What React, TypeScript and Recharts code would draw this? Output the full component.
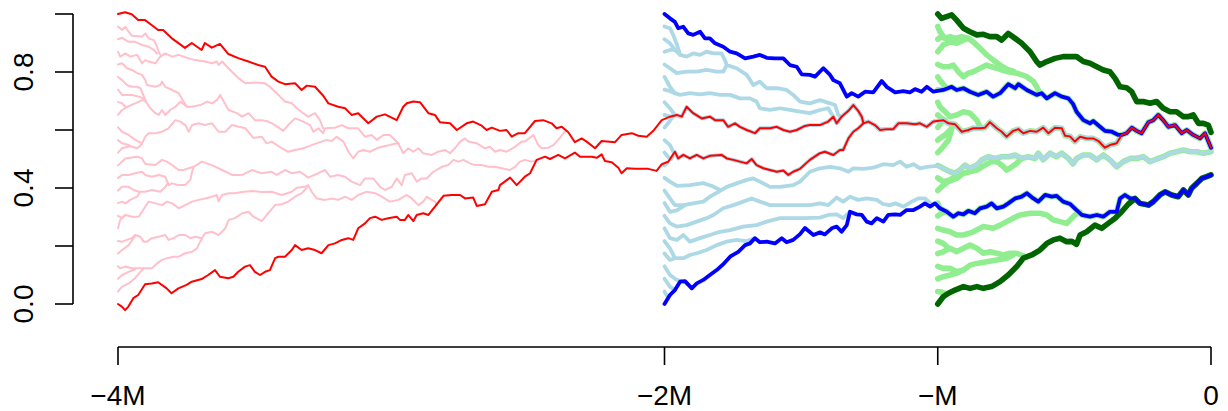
import { LineChart, Line, XAxis, YAxis, ReferenceLine } from 'recharts';

type Pt = [number, number];

// axis ticks (x in units of M)
const xTicks = [-4, -2, -1, 0];
const xTickLabels = ['\u22124M', '\u22122M', '\u2212M', '0'];
const yTicks = [0, 0.2, 0.4, 0.6, 0.8, 1];
const yTickLabels = ['0.0', '', '0.4', '', '0.8', ''];

// ---- lineages started at -4M (red = outermost, pink = inner) ----
const redTop: Pt[] = [[-4, 1.0], [-3.974, 1.006], [-3.950, 0.999], [-3.926, 0.979], [-3.901, 0.979], [-3.877, 0.962], [-3.853, 0.945], [-3.835, 0.945], [-3.804, 0.917], [-3.755, 0.883], [-3.730, 0.900], [-3.694, 0.876], [-3.682, 0.900], [-3.657, 0.884], [-3.627, 0.897], [-3.596, 0.862], [-3.560, 0.848], [-3.523, 0.836], [-3.487, 0.824], [-3.462, 0.818], [-3.438, 0.784], [-3.413, 0.767], [-3.389, 0.758], [-3.352, 0.761], [-3.328, 0.738], [-3.309, 0.753], [-3.279, 0.749], [-3.249, 0.718], [-3.230, 0.692], [-3.194, 0.680], [-3.169, 0.675], [-3.145, 0.652], [-3.121, 0.658], [-3.084, 0.623], [-3.053, 0.646], [-3.023, 0.654], [-2.980, 0.634], [-2.956, 0.680], [-2.943, 0.692], [-2.919, 0.698], [-2.895, 0.696], [-2.864, 0.658], [-2.840, 0.652], [-2.822, 0.627], [-2.785, 0.623], [-2.760, 0.600], [-2.724, 0.623], [-2.700, 0.629], [-2.669, 0.615], [-2.651, 0.600], [-2.632, 0.608], [-2.602, 0.597], [-2.578, 0.600], [-2.559, 0.577], [-2.535, 0.589], [-2.511, 0.589], [-2.474, 0.631], [-2.444, 0.634], [-2.413, 0.623], [-2.395, 0.606], [-2.376, 0.611], [-2.352, 0.592], [-2.328, 0.558], [-2.303, 0.571], [-2.285, 0.560], [-2.254, 0.537], [-2.230, 0.562], [-2.181, 0.558], [-2.157, 0.583], [-2.120, 0.589], [-2.096, 0.580], [-2.065, 0.577], [-2.041, 0.597], [-2.010, 0.634], [-1.980, 0.646], [-1.955, 0.652], [-1.937, 0.646], [-1.919, 0.680], [-1.895, 0.658], [-1.864, 0.640], [-1.834, 0.646], [-1.815, 0.634], [-1.785, 0.634], [-1.767, 0.611], [-1.742, 0.623], [-1.724, 0.611], [-1.699, 0.600], [-1.669, 0.589], [-1.651, 0.606], [-1.614, 0.606], [-1.589, 0.611], [-1.565, 0.600], [-1.541, 0.594], [-1.516, 0.600], [-1.486, 0.614], [-1.468, 0.617], [-1.431, 0.617], [-1.401, 0.629], [-1.382, 0.646], [-1.370, 0.623], [-1.352, 0.646], [-1.327, 0.666], [-1.309, 0.686], [-1.291, 0.666], [-1.278, 0.646], [-1.272, 0.623], [-1.254, 0.629], [-1.230, 0.617], [-1.211, 0.600], [-1.187, 0.603], [-1.163, 0.603], [-1.144, 0.623], [-1.114, 0.623], [-1.083, 0.620], [-1.065, 0.623], [-1.040, 0.611], [-1.016, 0.629], [-0.980, 0.634], [-0.961, 0.623], [-0.937, 0.620], [-0.912, 0.594], [-0.888, 0.600], [-0.870, 0.606], [-0.845, 0.606], [-0.827, 0.608], [-0.809, 0.627], [-0.784, 0.606], [-0.766, 0.594], [-0.748, 0.577], [-0.724, 0.597], [-0.705, 0.603], [-0.687, 0.589], [-0.662, 0.597], [-0.638, 0.594], [-0.614, 0.608], [-0.595, 0.589], [-0.571, 0.608], [-0.546, 0.606], [-0.534, 0.580], [-0.516, 0.578], [-0.498, 0.560], [-0.479, 0.577], [-0.455, 0.571], [-0.431, 0.571], [-0.412, 0.562], [-0.388, 0.539], [-0.370, 0.548], [-0.345, 0.554], [-0.327, 0.583], [-0.309, 0.589], [-0.290, 0.608], [-0.272, 0.597], [-0.254, 0.589], [-0.229, 0.627], [-0.211, 0.634], [-0.193, 0.652], [-0.175, 0.634], [-0.156, 0.611], [-0.132, 0.617], [-0.107, 0.589], [-0.089, 0.600], [-0.065, 0.583], [-0.040, 0.571], [-0.022, 0.589], [0, 0.539]];

const redBottom: Pt[] = [[-4, 0.0], [-3.986, -0.009], [-3.974, -0.021], [-3.962, -0.009], [-3.944, 0.020], [-3.926, 0.031], [-3.901, 0.068], [-3.877, 0.071], [-3.853, 0.075], [-3.822, 0.054], [-3.804, 0.037], [-3.779, 0.054], [-3.749, 0.066], [-3.730, 0.077], [-3.694, 0.086], [-3.670, 0.100], [-3.645, 0.117], [-3.627, 0.094], [-3.596, 0.089], [-3.578, 0.094], [-3.560, 0.111], [-3.535, 0.129], [-3.517, 0.134], [-3.499, 0.111], [-3.480, 0.100], [-3.462, 0.111], [-3.444, 0.117], [-3.425, 0.158], [-3.413, 0.163], [-3.389, 0.163], [-3.364, 0.186], [-3.352, 0.203], [-3.328, 0.186], [-3.304, 0.192], [-3.279, 0.186], [-3.255, 0.175], [-3.230, 0.203], [-3.206, 0.209], [-3.181, 0.221], [-3.157, 0.227], [-3.139, 0.221], [-3.121, 0.261], [-3.096, 0.278], [-3.078, 0.296], [-3.059, 0.301], [-3.035, 0.290], [-3.011, 0.296], [-2.980, 0.301], [-2.968, 0.290], [-2.950, 0.290], [-2.938, 0.307], [-2.919, 0.286], [-2.907, 0.307], [-2.883, 0.313], [-2.864, 0.307], [-2.840, 0.336], [-2.809, 0.373], [-2.779, 0.376], [-2.748, 0.376], [-2.730, 0.364], [-2.700, 0.367], [-2.687, 0.338], [-2.657, 0.344], [-2.632, 0.387], [-2.608, 0.393], [-2.602, 0.410], [-2.565, 0.436], [-2.541, 0.410], [-2.511, 0.439], [-2.492, 0.451], [-2.468, 0.497], [-2.437, 0.508], [-2.419, 0.500], [-2.389, 0.514], [-2.364, 0.502], [-2.328, 0.522], [-2.309, 0.508], [-2.266, 0.508], [-2.248, 0.504], [-2.230, 0.516], [-2.218, 0.493], [-2.193, 0.489], [-2.169, 0.470], [-2.157, 0.451], [-2.138, 0.468], [-2.108, 0.466], [-2.059, 0.466], [-2.029, 0.459], [-2.010, 0.482], [-1.986, 0.491], [-1.962, 0.525], [-1.950, 0.502], [-1.931, 0.514], [-1.907, 0.502], [-1.882, 0.514], [-1.858, 0.502], [-1.834, 0.511], [-1.791, 0.514], [-1.772, 0.502], [-1.748, 0.497], [-1.724, 0.491], [-1.699, 0.485], [-1.681, 0.500], [-1.663, 0.479], [-1.638, 0.468], [-1.614, 0.462], [-1.589, 0.456], [-1.565, 0.460], [-1.547, 0.445], [-1.529, 0.456], [-1.504, 0.466], [-1.468, 0.497], [-1.431, 0.520], [-1.413, 0.525], [-1.382, 0.514], [-1.358, 0.531], [-1.346, 0.531], [-1.327, 0.571], [-1.309, 0.594], [-1.291, 0.606], [-1.272, 0.623]];

const pink1: Pt[] = [[-4, 0.957], [-3.985, 0.945], [-3.973, 0.956], [-3.961, 0.939], [-3.949, 0.925], [-3.912, 0.922], [-3.900, 0.933], [-3.888, 0.916], [-3.869, 0.910], [-3.857, 0.887], [-3.851, 0.870], [-3.845, 0.859]];
const pink2: Pt[] = [[-4, 0.913], [-3.985, 0.918], [-3.961, 0.904], [-3.937, 0.904], [-3.912, 0.893], [-3.888, 0.887], [-3.869, 0.876], [-3.857, 0.864]];
const pink3: Pt[] = [[-4, 0.870], [-3.992, 0.853], [-3.973, 0.864], [-3.955, 0.853], [-3.930, 0.859], [-3.912, 0.830], [-3.900, 0.841], [-3.888, 0.836], [-3.863, 0.830], [-3.846, 0.852], [-3.827, 0.864], [-3.802, 0.853], [-3.778, 0.859], [-3.741, 0.847], [-3.717, 0.841], [-3.681, 0.836], [-3.656, 0.830], [-3.638, 0.836], [-3.632, 0.824], [-3.619, 0.836], [-3.601, 0.818], [-3.583, 0.801], [-3.558, 0.778], [-3.534, 0.761], [-3.499, 0.764], [-3.462, 0.761], [-3.444, 0.749], [-3.413, 0.721], [-3.389, 0.698], [-3.364, 0.692], [-3.346, 0.675], [-3.322, 0.658], [-3.304, 0.646], [-3.279, 0.658], [-3.261, 0.634], [-3.249, 0.606]];
const pink4: Pt[] = [[-4, 0.826], [-3.985, 0.830], [-3.967, 0.813], [-3.949, 0.807], [-3.930, 0.796], [-3.912, 0.790], [-3.900, 0.772], [-3.894, 0.755], [-3.863, 0.749], [-3.845, 0.755], [-3.839, 0.767], [-3.827, 0.749], [-3.802, 0.738], [-3.778, 0.727], [-3.760, 0.698], [-3.748, 0.680], [-3.729, 0.680], [-3.699, 0.686], [-3.674, 0.698], [-3.656, 0.692], [-3.638, 0.703], [-3.626, 0.721], [-3.613, 0.698], [-3.595, 0.669], [-3.565, 0.658], [-3.546, 0.646], [-3.522, 0.658], [-3.499, 0.634], [-3.474, 0.634], [-3.450, 0.629], [-3.425, 0.617], [-3.395, 0.597], [-3.377, 0.617], [-3.352, 0.640], [-3.322, 0.629], [-3.297, 0.617], [-3.285, 0.594], [-3.267, 0.606], [-3.249, 0.589], [-3.242, 0.606], [-3.206, 0.608], [-3.181, 0.617], [-3.157, 0.606], [-3.121, 0.606], [-3.096, 0.577], [-3.072, 0.583], [-3.053, 0.566], [-3.029, 0.583], [-3.005, 0.583], [-2.975, 0.555], [-2.956, 0.520], [-2.938, 0.537], [-2.919, 0.525], [-2.901, 0.537], [-2.883, 0.520], [-2.852, 0.514], [-2.828, 0.525], [-2.803, 0.531], [-2.785, 0.520], [-2.767, 0.537], [-2.748, 0.560], [-2.730, 0.571], [-2.718, 0.560], [-2.687, 0.554], [-2.657, 0.537], [-2.639, 0.542], [-2.620, 0.525], [-2.602, 0.531], [-2.578, 0.525], [-2.547, 0.542], [-2.523, 0.560], [-2.511, 0.560], [-2.480, 0.583], [-2.462, 0.548], [-2.449, 0.537], [-2.425, 0.539], [-2.407, 0.548], [-2.389, 0.566], [-2.364, 0.595]];
const pink5: Pt[] = [[-4, 0.783], [-3.985, 0.772], [-3.967, 0.755], [-3.949, 0.749], [-3.930, 0.749], [-3.918, 0.744], [-3.897, 0.697]];
const pink6: Pt[] = [[-4, 0.739], [-3.985, 0.721], [-3.967, 0.721], [-3.949, 0.721], [-3.924, 0.715], [-3.906, 0.709], [-3.882, 0.675], [-3.863, 0.658], [-3.851, 0.652], [-3.839, 0.669], [-3.827, 0.652], [-3.809, 0.669], [-3.790, 0.680], [-3.772, 0.698], [-3.748, 0.680]];
const pink7: Pt[] = [[-4, 0.696], [-3.985, 0.692], [-3.973, 0.680]];
const pink8: Pt[] = [[-4, 0.652], [-3.985, 0.669], [-3.967, 0.680], [-3.937, 0.692], [-3.912, 0.703], [-3.901, 0.700]];
const pink9: Pt[] = [[-4, 0.609], [-3.985, 0.594], [-3.961, 0.583], [-3.937, 0.566], [-3.912, 0.554], [-3.900, 0.577], [-3.888, 0.589], [-3.863, 0.589], [-3.839, 0.594], [-3.815, 0.606], [-3.790, 0.634], [-3.772, 0.629], [-3.754, 0.617], [-3.741, 0.594], [-3.729, 0.617], [-3.705, 0.623], [-3.681, 0.617], [-3.656, 0.623], [-3.632, 0.594], [-3.607, 0.594], [-3.583, 0.617], [-3.558, 0.611], [-3.534, 0.606], [-3.505, 0.573], [-3.474, 0.577], [-3.456, 0.554], [-3.438, 0.560], [-3.401, 0.537], [-3.377, 0.525], [-3.352, 0.531], [-3.322, 0.537], [-3.291, 0.548], [-3.261, 0.558], [-3.236, 0.566], [-3.218, 0.562], [-3.200, 0.577], [-3.175, 0.560], [-3.157, 0.525], [-3.139, 0.502], [-3.121, 0.525], [-3.102, 0.531], [-3.078, 0.525], [-3.053, 0.537], [-3.035, 0.542], [-3.005, 0.548], [-2.975, 0.555]];
const pink10: Pt[] = [[-4, 0.565], [-3.985, 0.554], [-3.961, 0.548], [-3.949, 0.542], [-3.930, 0.537], [-3.912, 0.552]];
const pink11: Pt[] = [[-4, 0.522], [-3.985, 0.537], [-3.955, 0.545]];
const pink12: Pt[] = [[-4, 0.478], [-3.973, 0.502], [-3.930, 0.508], [-3.912, 0.502], [-3.900, 0.483], [-3.863, 0.479], [-3.839, 0.497], [-3.821, 0.491], [-3.802, 0.479], [-3.778, 0.462], [-3.760, 0.462], [-3.741, 0.468], [-3.723, 0.473], [-3.693, 0.491], [-3.656, 0.479], [-3.619, 0.462], [-3.583, 0.445], [-3.546, 0.445], [-3.510, 0.462], [-3.474, 0.451], [-3.438, 0.456], [-3.419, 0.445], [-3.389, 0.462], [-3.364, 0.451], [-3.334, 0.456], [-3.304, 0.436], [-3.267, 0.451], [-3.242, 0.462], [-3.224, 0.439], [-3.194, 0.445], [-3.169, 0.439], [-3.145, 0.422], [-3.114, 0.410], [-3.096, 0.433], [-3.066, 0.433], [-3.041, 0.404], [-3.023, 0.393], [-2.998, 0.404], [-2.980, 0.433], [-2.962, 0.410], [-2.950, 0.445], [-2.925, 0.451], [-2.907, 0.422], [-2.889, 0.433], [-2.870, 0.433], [-2.846, 0.456], [-2.815, 0.473], [-2.791, 0.479], [-2.773, 0.497], [-2.755, 0.491], [-2.736, 0.497], [-2.712, 0.485], [-2.694, 0.479], [-2.669, 0.479], [-2.645, 0.473], [-2.620, 0.473], [-2.596, 0.468], [-2.565, 0.462], [-2.547, 0.473], [-2.529, 0.491], [-2.511, 0.497], [-2.486, 0.491], [-2.462, 0.497]];
const pink13: Pt[] = [[-4, 0.435], [-3.985, 0.445], [-3.961, 0.445], [-3.937, 0.451], [-3.912, 0.456], [-3.900, 0.445], [-3.876, 0.439], [-3.851, 0.445], [-3.827, 0.439], [-3.815, 0.410], [-3.802, 0.416], [-3.778, 0.410], [-3.754, 0.410], [-3.735, 0.428], [-3.729, 0.456], [-3.723, 0.473]];
const pink14: Pt[] = [[-4, 0.391], [-3.985, 0.404], [-3.961, 0.404], [-3.943, 0.393], [-3.924, 0.387], [-3.900, 0.387], [-3.876, 0.393], [-3.845, 0.387], [-3.827, 0.404], [-3.817, 0.417]];
const pink15: Pt[] = [[-4, 0.348], [-3.985, 0.353], [-3.973, 0.347], [-3.955, 0.359], [-3.930, 0.370], [-3.919, 0.386]];
const pink16: Pt[] = [[-4, 0.304], [-3.987, 0.297], [-3.973, 0.307]];
const pink17: Pt[] = [[-4, 0.261], [-3.992, 0.290], [-3.973, 0.307], [-3.949, 0.301], [-3.924, 0.301], [-3.912, 0.318], [-3.900, 0.336], [-3.888, 0.353], [-3.863, 0.347], [-3.839, 0.341], [-3.821, 0.353], [-3.802, 0.347], [-3.778, 0.330], [-3.754, 0.341], [-3.729, 0.353], [-3.705, 0.359], [-3.681, 0.364], [-3.656, 0.370], [-3.638, 0.376], [-3.632, 0.353], [-3.619, 0.376], [-3.595, 0.382], [-3.572, 0.382], [-3.546, 0.386], [-3.510, 0.390], [-3.474, 0.386], [-3.438, 0.387], [-3.401, 0.376], [-3.364, 0.387], [-3.346, 0.401], [-3.316, 0.404], [-3.304, 0.410], [-3.291, 0.387], [-3.273, 0.364], [-3.242, 0.359], [-3.218, 0.364], [-3.194, 0.359], [-3.169, 0.370], [-3.145, 0.359], [-3.121, 0.376], [-3.090, 0.387], [-3.059, 0.382], [-3.035, 0.370], [-3.005, 0.353], [-2.974, 0.359], [-2.943, 0.376], [-2.925, 0.364], [-2.901, 0.341], [-2.883, 0.353], [-2.870, 0.370], [-2.852, 0.359], [-2.840, 0.353], [-2.833, 0.341]];
const pink18: Pt[] = [[-4, 0.217], [-3.985, 0.215], [-3.967, 0.221], [-3.949, 0.227], [-3.937, 0.238], [-3.918, 0.232], [-3.906, 0.215], [-3.894, 0.215], [-3.876, 0.227], [-3.851, 0.232], [-3.827, 0.238], [-3.815, 0.221], [-3.796, 0.227], [-3.778, 0.238], [-3.754, 0.238], [-3.735, 0.227], [-3.717, 0.232], [-3.693, 0.227], [-3.681, 0.244], [-3.656, 0.249], [-3.632, 0.238], [-3.607, 0.261], [-3.595, 0.290], [-3.572, 0.296], [-3.546, 0.313], [-3.522, 0.318], [-3.505, 0.301], [-3.474, 0.286], [-3.450, 0.313], [-3.425, 0.341], [-3.401, 0.344], [-3.377, 0.353], [-3.352, 0.370], [-3.328, 0.382], [-3.309, 0.401]];
const pink19: Pt[] = [[-4, 0.174], [-3.985, 0.186], [-3.961, 0.203], [-3.937, 0.235]];
const pink20: Pt[] = [[-4, 0.130], [-3.992, 0.123], [-3.973, 0.129], [-3.949, 0.123], [-3.924, 0.123], [-3.906, 0.123], [-3.876, 0.123], [-3.857, 0.140], [-3.839, 0.152], [-3.821, 0.158], [-3.796, 0.163], [-3.778, 0.163], [-3.754, 0.175], [-3.729, 0.180], [-3.711, 0.192], [-3.699, 0.215], [-3.693, 0.223]];
const pink21: Pt[] = [[-4, 0.087], [-3.985, 0.100], [-3.961, 0.111], [-3.937, 0.120]];
const pink22: Pt[] = [[-4, 0.043], [-3.985, 0.060], [-3.961, 0.071], [-3.937, 0.090], [-3.919, 0.110], [-3.906, 0.123]];

// ---- lineages started at -2M (blue = outermost, light blue = inner) ----
const blueTop: Pt[] = [[-2, 1.0], [-1.980, 0.985], [-1.962, 0.973], [-1.950, 0.951], [-1.931, 0.956], [-1.913, 0.933], [-1.895, 0.928], [-1.870, 0.939], [-1.852, 0.916], [-1.834, 0.916], [-1.815, 0.899], [-1.785, 0.887], [-1.760, 0.870], [-1.736, 0.864], [-1.705, 0.847], [-1.675, 0.853], [-1.651, 0.859], [-1.626, 0.849], [-1.596, 0.847], [-1.565, 0.847], [-1.541, 0.824], [-1.516, 0.818], [-1.498, 0.792], [-1.468, 0.790], [-1.449, 0.784], [-1.419, 0.813], [-1.394, 0.790], [-1.382, 0.772], [-1.358, 0.761], [-1.333, 0.715], [-1.315, 0.727], [-1.291, 0.715], [-1.266, 0.732], [-1.236, 0.730], [-1.205, 0.769], [-1.187, 0.749], [-1.156, 0.730], [-1.126, 0.734], [-1.102, 0.730], [-1.083, 0.741], [-1.059, 0.732], [-1.040, 0.749], [-1.016, 0.732], [-0.980, 0.738], [-0.949, 0.749], [-0.931, 0.738], [-0.906, 0.744], [-0.882, 0.732], [-0.852, 0.721], [-0.821, 0.732], [-0.797, 0.715], [-0.772, 0.727], [-0.742, 0.758], [-0.717, 0.744], [-0.705, 0.758], [-0.674, 0.738], [-0.638, 0.721], [-0.620, 0.727], [-0.601, 0.709], [-0.571, 0.727], [-0.546, 0.715], [-0.522, 0.709], [-0.505, 0.690], [-0.492, 0.663], [-0.467, 0.634], [-0.443, 0.623], [-0.431, 0.631], [-0.406, 0.611], [-0.388, 0.597], [-0.363, 0.594], [-0.339, 0.583], [-0.327, 0.583]];

const blueBottom: Pt[] = [[-2, 0.0], [-1.980, 0.031], [-1.962, 0.048], [-1.943, 0.077], [-1.925, 0.079], [-1.900, 0.054], [-1.882, 0.071], [-1.858, 0.083], [-1.834, 0.100], [-1.809, 0.117], [-1.785, 0.137], [-1.760, 0.163], [-1.730, 0.180], [-1.705, 0.203], [-1.687, 0.209], [-1.669, 0.227], [-1.651, 0.213], [-1.626, 0.215], [-1.596, 0.209], [-1.571, 0.227], [-1.553, 0.213], [-1.529, 0.221], [-1.504, 0.241], [-1.486, 0.262], [-1.455, 0.238], [-1.431, 0.247], [-1.413, 0.240], [-1.388, 0.261], [-1.370, 0.267], [-1.352, 0.249], [-1.333, 0.272], [-1.321, 0.318], [-1.297, 0.309], [-1.278, 0.307], [-1.260, 0.284], [-1.242, 0.278], [-1.223, 0.296], [-1.199, 0.284], [-1.181, 0.307], [-1.156, 0.309], [-1.138, 0.307], [-1.114, 0.324], [-1.089, 0.324], [-1.065, 0.336], [-1.047, 0.347], [-1.028, 0.336], [-1.010, 0.347], [-0.992, 0.330], [-0.967, 0.318], [-0.943, 0.301], [-0.925, 0.313], [-0.906, 0.309], [-0.888, 0.321], [-0.864, 0.313], [-0.845, 0.330], [-0.821, 0.336], [-0.803, 0.347], [-0.784, 0.330], [-0.760, 0.336], [-0.742, 0.347], [-0.717, 0.364], [-0.693, 0.370], [-0.674, 0.382], [-0.650, 0.364], [-0.632, 0.353], [-0.607, 0.376], [-0.583, 0.370], [-0.565, 0.373], [-0.541, 0.353], [-0.516, 0.345], [-0.492, 0.324], [-0.473, 0.307], [-0.443, 0.301], [-0.418, 0.307], [-0.394, 0.301], [-0.370, 0.318], [-0.345, 0.318], [-0.333, 0.364], [-0.315, 0.376], [-0.296, 0.364], [-0.278, 0.364], [-0.260, 0.347], [-0.229, 0.341], [-0.211, 0.353], [-0.187, 0.376], [-0.168, 0.387], [-0.144, 0.376], [-0.120, 0.370], [-0.101, 0.393], [-0.083, 0.376], [-0.071, 0.399], [-0.052, 0.416], [-0.034, 0.433], [-0.016, 0.439], [0, 0.445]];

const lb1: Pt[] = [[-2, 0.957], [-1.980, 0.951], [-1.968, 0.928], [-1.954, 0.893], [-1.943, 0.859]];
const lb2: Pt[] = [[-2, 0.913], [-1.980, 0.899], [-1.962, 0.876], [-1.943, 0.859], [-1.919, 0.853], [-1.895, 0.864], [-1.870, 0.859], [-1.846, 0.870], [-1.821, 0.864], [-1.791, 0.864], [-1.779, 0.841], [-1.772, 0.824], [-1.736, 0.813], [-1.699, 0.790], [-1.675, 0.755], [-1.651, 0.767], [-1.626, 0.744], [-1.589, 0.744], [-1.553, 0.738], [-1.529, 0.721], [-1.504, 0.698], [-1.468, 0.692], [-1.431, 0.703], [-1.394, 0.692], [-1.376, 0.686], [-1.364, 0.652]];
const lb3: Pt[] = [[-2, 0.870], [-1.980, 0.876], [-1.962, 0.876]];
const lb4: Pt[] = [[-2, 0.826], [-1.980, 0.813], [-1.955, 0.796], [-1.919, 0.801], [-1.882, 0.801], [-1.846, 0.807], [-1.809, 0.801], [-1.785, 0.801], [-1.772, 0.824]];
const lb5: Pt[] = [[-2, 0.783], [-1.980, 0.749], [-1.962, 0.727], [-1.943, 0.721], [-1.907, 0.727], [-1.870, 0.723], [-1.834, 0.727], [-1.797, 0.721], [-1.760, 0.721], [-1.724, 0.709], [-1.687, 0.709], [-1.663, 0.698], [-1.651, 0.675], [-1.614, 0.669], [-1.577, 0.675], [-1.541, 0.669], [-1.504, 0.663], [-1.468, 0.658], [-1.431, 0.669], [-1.401, 0.675], [-1.382, 0.646]];
const lb6: Pt[] = [[-2, 0.739], [-1.980, 0.734], [-1.962, 0.727]];
const lb7: Pt[] = [[-2, 0.696], [-1.980, 0.675], [-1.962, 0.652], [-1.943, 0.646]];
const lb8: Pt[] = [[-2, 0.652]];
const lb9: Pt[] = [[-2, 0.609], [-1.985, 0.625], [-1.970, 0.645]];
const lb10: Pt[] = [[-2, 0.565], [-1.980, 0.548], [-1.968, 0.525]];
const lb11: Pt[] = [[-2, 0.522], [-1.985, 0.505], [-1.975, 0.500]];
const lb12: Pt[] = [[-2, 0.478], [-1.990, 0.487]];
const lb13: Pt[] = [[-2, 0.435], [-1.980, 0.422], [-1.954, 0.407], [-1.907, 0.410], [-1.859, 0.417], [-1.826, 0.407], [-1.797, 0.393]];
const lb14: Pt[] = [[-2, 0.391], [-1.980, 0.364], [-1.962, 0.341], [-1.931, 0.341], [-1.895, 0.347], [-1.858, 0.353], [-1.834, 0.370], [-1.803, 0.387], [-1.772, 0.404], [-1.736, 0.416], [-1.699, 0.428], [-1.675, 0.433], [-1.651, 0.422], [-1.614, 0.404], [-1.577, 0.404], [-1.529, 0.410], [-1.504, 0.422], [-1.468, 0.456], [-1.431, 0.468], [-1.394, 0.473], [-1.358, 0.468], [-1.327, 0.456], [-1.309, 0.468], [-1.272, 0.466], [-1.236, 0.470], [-1.199, 0.482], [-1.163, 0.479], [-1.138, 0.491], [-1.114, 0.473], [-1.089, 0.482], [-1.065, 0.468], [-1.040, 0.473], [-1.004, 0.476], [-0.980, 0.468], [-0.955, 0.456], [-0.937, 0.451], [-0.919, 0.462], [-0.900, 0.479], [-0.882, 0.468], [-0.857, 0.479], [-0.839, 0.497], [-0.815, 0.508], [-0.790, 0.502], [-0.766, 0.508], [-0.742, 0.508], [-0.717, 0.514], [-0.693, 0.502], [-0.669, 0.508], [-0.644, 0.502], [-0.632, 0.520], [-0.614, 0.497], [-0.589, 0.520], [-0.565, 0.508], [-0.546, 0.520], [-0.522, 0.502], [-0.505, 0.483], [-0.492, 0.502], [-0.467, 0.514], [-0.443, 0.514], [-0.418, 0.497], [-0.394, 0.514], [-0.370, 0.497], [-0.345, 0.473], [-0.321, 0.491], [-0.296, 0.502], [-0.272, 0.502], [-0.248, 0.508], [-0.223, 0.491], [-0.199, 0.500], [-0.175, 0.508], [-0.150, 0.520], [-0.126, 0.525], [-0.101, 0.531], [-0.077, 0.525], [-0.052, 0.525], [-0.028, 0.520], [0, 0.525]];
const lb15: Pt[] = [[-2, 0.348], [-1.980, 0.318], [-1.955, 0.323], [-1.925, 0.341]];
const lb16: Pt[] = [[-2, 0.304], [-1.980, 0.278], [-1.955, 0.267], [-1.919, 0.272], [-1.882, 0.284], [-1.846, 0.296], [-1.821, 0.307], [-1.785, 0.330], [-1.748, 0.341], [-1.712, 0.353], [-1.681, 0.364], [-1.651, 0.353], [-1.614, 0.341], [-1.577, 0.341], [-1.529, 0.341], [-1.486, 0.341], [-1.468, 0.341], [-1.431, 0.347], [-1.401, 0.341], [-1.370, 0.367], [-1.346, 0.353], [-1.321, 0.370], [-1.291, 0.359], [-1.260, 0.364], [-1.223, 0.359], [-1.199, 0.344], [-1.175, 0.341], [-1.156, 0.347], [-1.126, 0.336], [-1.095, 0.353], [-1.071, 0.364], [-1.047, 0.364], [-1.022, 0.344], [-1.010, 0.347]];
const lb17: Pt[] = [[-2, 0.261], [-1.980, 0.227], [-1.955, 0.221], [-1.931, 0.238], [-1.907, 0.215], [-1.870, 0.227], [-1.834, 0.238], [-1.797, 0.249], [-1.760, 0.255], [-1.712, 0.267], [-1.663, 0.272], [-1.626, 0.284], [-1.577, 0.296], [-1.529, 0.296], [-1.486, 0.296], [-1.431, 0.298], [-1.401, 0.307], [-1.370, 0.309], [-1.346, 0.296], [-1.327, 0.313], [-1.321, 0.318]];
const lb18: Pt[] = [[-2, 0.217], [-1.980, 0.192], [-1.962, 0.158], [-1.931, 0.158], [-1.907, 0.169], [-1.882, 0.175], [-1.846, 0.186], [-1.809, 0.203], [-1.772, 0.215], [-1.736, 0.221], [-1.699, 0.217], [-1.669, 0.227]];
const lb19: Pt[] = [[-2, 0.174], [-1.980, 0.152], [-1.962, 0.158]];
const lb20: Pt[] = [[-2, 0.130], [-1.980, 0.100], [-1.955, 0.083], [-1.931, 0.077], [-1.914, 0.068]];
const lb21: Pt[] = [[-2, 0.087], [-1.980, 0.060], [-1.962, 0.048]];
const lb22: Pt[] = [[-2, 0.043], [-1.991, 0.028]];

// ---- lineages started at -M (dark green = outermost, light green = inner) ----
const greenTop: Pt[] = [[-1, 1.0], [-0.986, 0.985], [-0.949, 0.997], [-0.931, 0.979], [-0.906, 0.951], [-0.882, 0.939], [-0.857, 0.928], [-0.833, 0.930], [-0.809, 0.922], [-0.784, 0.922], [-0.766, 0.910], [-0.742, 0.933], [-0.717, 0.916], [-0.693, 0.899], [-0.662, 0.870], [-0.638, 0.836], [-0.626, 0.824], [-0.601, 0.836], [-0.571, 0.847], [-0.541, 0.853], [-0.516, 0.853], [-0.492, 0.853], [-0.467, 0.836], [-0.443, 0.830], [-0.418, 0.818], [-0.394, 0.807], [-0.370, 0.801], [-0.351, 0.778], [-0.333, 0.749], [-0.309, 0.746], [-0.290, 0.732], [-0.272, 0.698], [-0.248, 0.698], [-0.223, 0.692], [-0.199, 0.698], [-0.175, 0.675], [-0.150, 0.663], [-0.126, 0.663], [-0.101, 0.646], [-0.083, 0.646], [-0.065, 0.652], [-0.046, 0.623], [-0.028, 0.623], [-0.010, 0.617], [0, 0.592]];
const greenBottom: Pt[] = [[-1, 0.0], [-0.980, 0.025], [-0.961, 0.037], [-0.937, 0.048], [-0.906, 0.060], [-0.882, 0.054], [-0.857, 0.060], [-0.833, 0.054], [-0.803, 0.060], [-0.772, 0.077], [-0.742, 0.100], [-0.711, 0.129], [-0.687, 0.158], [-0.656, 0.169], [-0.626, 0.186], [-0.601, 0.209], [-0.577, 0.221], [-0.553, 0.227], [-0.528, 0.215], [-0.509, 0.216], [-0.492, 0.206], [-0.479, 0.238], [-0.455, 0.249], [-0.425, 0.272], [-0.400, 0.261], [-0.376, 0.278], [-0.351, 0.296], [-0.327, 0.318], [-0.303, 0.344], [-0.284, 0.359]];

const lg1: Pt[] = [[-1, 0.957], [-0.992, 0.939], [-0.973, 0.916], [-0.955, 0.922], [-0.937, 0.916], [-0.912, 0.922], [-0.888, 0.916], [-0.870, 0.904], [-0.845, 0.882], [-0.821, 0.859], [-0.797, 0.841], [-0.772, 0.824], [-0.748, 0.810], [-0.724, 0.803]];
const lg2: Pt[] = [[-1, 0.913], [-0.988, 0.921], [-0.973, 0.916]];
const lg3: Pt[] = [[-1, 0.870], [-0.980, 0.893], [-0.955, 0.904], [-0.931, 0.899], [-0.906, 0.910], [-0.888, 0.916]];
const lg4: Pt[] = [[-1, 0.826], [-0.980, 0.818], [-0.961, 0.818], [-0.943, 0.824], [-0.925, 0.801], [-0.906, 0.784], [-0.888, 0.796], [-0.870, 0.801], [-0.845, 0.813], [-0.821, 0.824], [-0.803, 0.818], [-0.784, 0.813], [-0.766, 0.807], [-0.742, 0.801], [-0.711, 0.796], [-0.674, 0.784], [-0.650, 0.767], [-0.638, 0.749], [-0.626, 0.726]];
const lg5: Pt[] = [[-1, 0.783], [-0.988, 0.767], [-0.967, 0.744]];
const lg6: Pt[] = [[-1, 0.739]];
const lg7: Pt[] = [[-1, 0.696], [-0.992, 0.680], [-0.973, 0.663], [-0.955, 0.646], [-0.931, 0.652], [-0.906, 0.663], [-0.882, 0.658], [-0.857, 0.634], [-0.845, 0.611]];
const lg8: Pt[] = [[-1, 0.652], [-0.988, 0.641], [-0.973, 0.634]];
const lg9: Pt[] = [[-1, 0.609]];
const lg10: Pt[] = [[-1, 0.565], [-0.992, 0.571], [-0.973, 0.583], [-0.955, 0.600], [-0.940, 0.618]];
const lg11: Pt[] = [[-1, 0.522], [-0.980, 0.542], [-0.961, 0.565], [-0.950, 0.600]];
const lg12: Pt[] = [[-1, 0.478]];
const lg13: Pt[] = [[-1, 0.435], [-0.980, 0.422], [-0.955, 0.428], [-0.937, 0.439], [-0.919, 0.455]];
const lg14: Pt[] = [[-1, 0.391], [-0.986, 0.404], [-0.961, 0.422], [-0.931, 0.433], [-0.906, 0.451], [-0.882, 0.456], [-0.857, 0.462], [-0.827, 0.479], [-0.803, 0.491], [-0.784, 0.491], [-0.766, 0.479], [-0.748, 0.462], [-0.729, 0.473], [-0.711, 0.485], [-0.693, 0.502]];
const lg15: Pt[] = [[-1, 0.348]];
const lg16: Pt[] = [[-1, 0.304], [-0.986, 0.313], [-0.967, 0.318]];
const lg17: Pt[] = [[-1, 0.261], [-0.980, 0.255], [-0.955, 0.249], [-0.931, 0.238], [-0.906, 0.238], [-0.870, 0.249], [-0.833, 0.267], [-0.797, 0.261], [-0.772, 0.272], [-0.748, 0.284], [-0.724, 0.296], [-0.699, 0.307], [-0.662, 0.313], [-0.626, 0.313], [-0.601, 0.307], [-0.577, 0.290], [-0.553, 0.284], [-0.528, 0.278], [-0.498, 0.307], [-0.479, 0.317]];
const lg18: Pt[] = [[-1, 0.217], [-0.980, 0.209], [-0.961, 0.193]];
const lg19: Pt[] = [[-1, 0.174], [-0.980, 0.180], [-0.955, 0.192], [-0.931, 0.180], [-0.906, 0.192], [-0.882, 0.203], [-0.857, 0.192], [-0.833, 0.175], [-0.809, 0.180], [-0.784, 0.175], [-0.760, 0.169], [-0.736, 0.175], [-0.711, 0.175], [-0.677, 0.162]];
const lg20: Pt[] = [[-1, 0.130], [-0.980, 0.123], [-0.955, 0.123], [-0.931, 0.111], [-0.906, 0.117], [-0.882, 0.134], [-0.857, 0.140], [-0.821, 0.146], [-0.784, 0.152], [-0.748, 0.158], [-0.724, 0.169]];
const lg21: Pt[] = [[-1, 0.087], [-0.980, 0.094], [-0.955, 0.100], [-0.931, 0.106], [-0.906, 0.117]];
const lg22: Pt[] = [[-1, 0.043], [-0.986, 0.041], [-0.967, 0.034]];

// a lineage that has coalesced keeps running along the one it joined
const follow = (own: Pt[], target: Pt[]): Pt[] => {
  const lastX = own[own.length - 1][0];
  return own.concat(target.filter((p) => p[0] > lastX));
};

const redBottomFull = follow(redBottom, redTop);
const blueTopFull = follow(blueTop, redTop);
const greenBottomFull = follow(greenBottom, blueBottom);

const lightGreenLines = [lg1, lg2, lg3, lg4, lg5, follow(lg6, blueTopFull), lg7, lg8, follow(lg9, redTop), lg10, lg11, follow(lg12, lb14), lg13, lg14, follow(lg15, blueBottom), lg16, lg17, lg18, lg19, lg20, lg21, lg22];
const darkGreenLines = [greenTop, greenBottomFull];
const lightBlueLines = [lb1, follow(lb2, redTop), lb3, lb4, follow(lb5, redTop), lb6, lb7, follow(lb8, redTop), lb9, lb10, follow(lb11, redBottomFull), lb12, lb13, lb14, lb15, lb16, lb17, lb18, lb19, lb20, lb21, lb22];
const blueLines = [blueTopFull, blueBottom];
const pinkLines = [pink1, pink2, pink3, pink4, pink5, pink6, pink7, pink8, pink9, pink10, pink11, pink12, pink13, pink14, pink15, pink16, pink17, pink18, pink19, pink20, pink21, pink22];
const redLines = [redTop, redBottom];

// plot region: x -4..0 maps to 118..1211 px, y 0..1 maps to 304..14 px
const X_MIN = -4.16468;
const X_MAX = 0.03293;
const Y_MIN = -0.148276;
const Y_MAX = 1.041379;

const FONT = '"Liberation Sans", Arial, Helvetica, sans-serif';

const XTick = (props: any) => {
  const { x, y, payload } = props;
  const i = xTicks.findIndex((t) => Math.abs(t - payload.value) < 1e-9);
  return (
    <text x={x} y={y + 38} textAnchor="middle" fontSize={28} fontFamily={FONT} fill="#000">
      {xTickLabels[i]}
    </text>
  );
};

const YTick = (props: any) => {
  const { x, y, payload } = props;
  const i = yTicks.findIndex((t) => Math.abs(t - payload.value) < 1e-9);
  const bx = x - 20;
  return (
    <text x={bx} y={y} transform={`rotate(-90, ${bx}, ${y})`} textAnchor="middle" fontSize={28} fontFamily={FONT} fill="#000">
      {yTickLabels[i]}
    </text>
  );
};

const toRows = (pts: Pt[]) => pts.map(([x, y]) => ({ x, y }));

export default function App() {
  const groups = [
    { name: 'lg', lines: lightGreenLines, color: '#90EE90', width: 5.6 },
    { name: 'dg', lines: darkGreenLines, color: '#006400', width: 5.6 },
    { name: 'lb', lines: lightBlueLines, color: '#ADD8E6', width: 3.8 },
    { name: 'b', lines: blueLines, color: '#0000FF', width: 3.8 },
    { name: 'p', lines: pinkLines, color: '#FFC0CB', width: 2 },
    { name: 'r', lines: redLines, color: '#FF0000', width: 2 },
  ];

  return (
    <div style={{ position: 'absolute', left: 0, top: 0, background: '#fff' }}>
      <LineChart width={1228} height={411} margin={{ top: 2, right: 8, bottom: 0, left: 0 }}>
        <XAxis
          type="number"
          dataKey="x"
          domain={[X_MIN, X_MAX]}
          allowDataOverflow
          ticks={xTicks}
          interval={0}
          axisLine={false}
          tickLine={{ stroke: '#000', strokeWidth: 1.6 }}
          tickSize={18}
          height={64}
          tick={(p: any) => <XTick {...p} />}
        />
        <YAxis
          type="number"
          domain={[Y_MIN, Y_MAX]}
          allowDataOverflow
          ticks={yTicks}
          interval={0}
          axisLine={false}
          tickLine={{ stroke: '#000', strokeWidth: 1.6 }}
          tickSize={18}
          width={73}
          tick={(p: any) => <YTick {...p} />}
        />
        <ReferenceLine
          segment={[{ x: X_MIN, y: yTicks[0] }, { x: X_MIN, y: yTicks[yTicks.length - 1] }]}
          stroke="#000"
          strokeWidth={1.6}
          ifOverflow="visible"
        />
        <ReferenceLine
          segment={[{ x: xTicks[0], y: Y_MIN }, { x: xTicks[xTicks.length - 1], y: Y_MIN }]}
          stroke="#000"
          strokeWidth={1.6}
          ifOverflow="visible"
        />
        {groups.map((g) =>
          g.lines.map((pts, i) => (
            <Line
              key={`${g.name}${i}`}
              data={toRows(pts)}
              dataKey="y"
              type="linear"
              stroke={g.color}
              strokeWidth={g.width}
              strokeLinejoin="round"
              strokeLinecap="round"
              dot={false}
              activeDot={false}
              isAnimationActive={false}
            />
          ))
        )}
      </LineChart>
    </div>
  );
}
